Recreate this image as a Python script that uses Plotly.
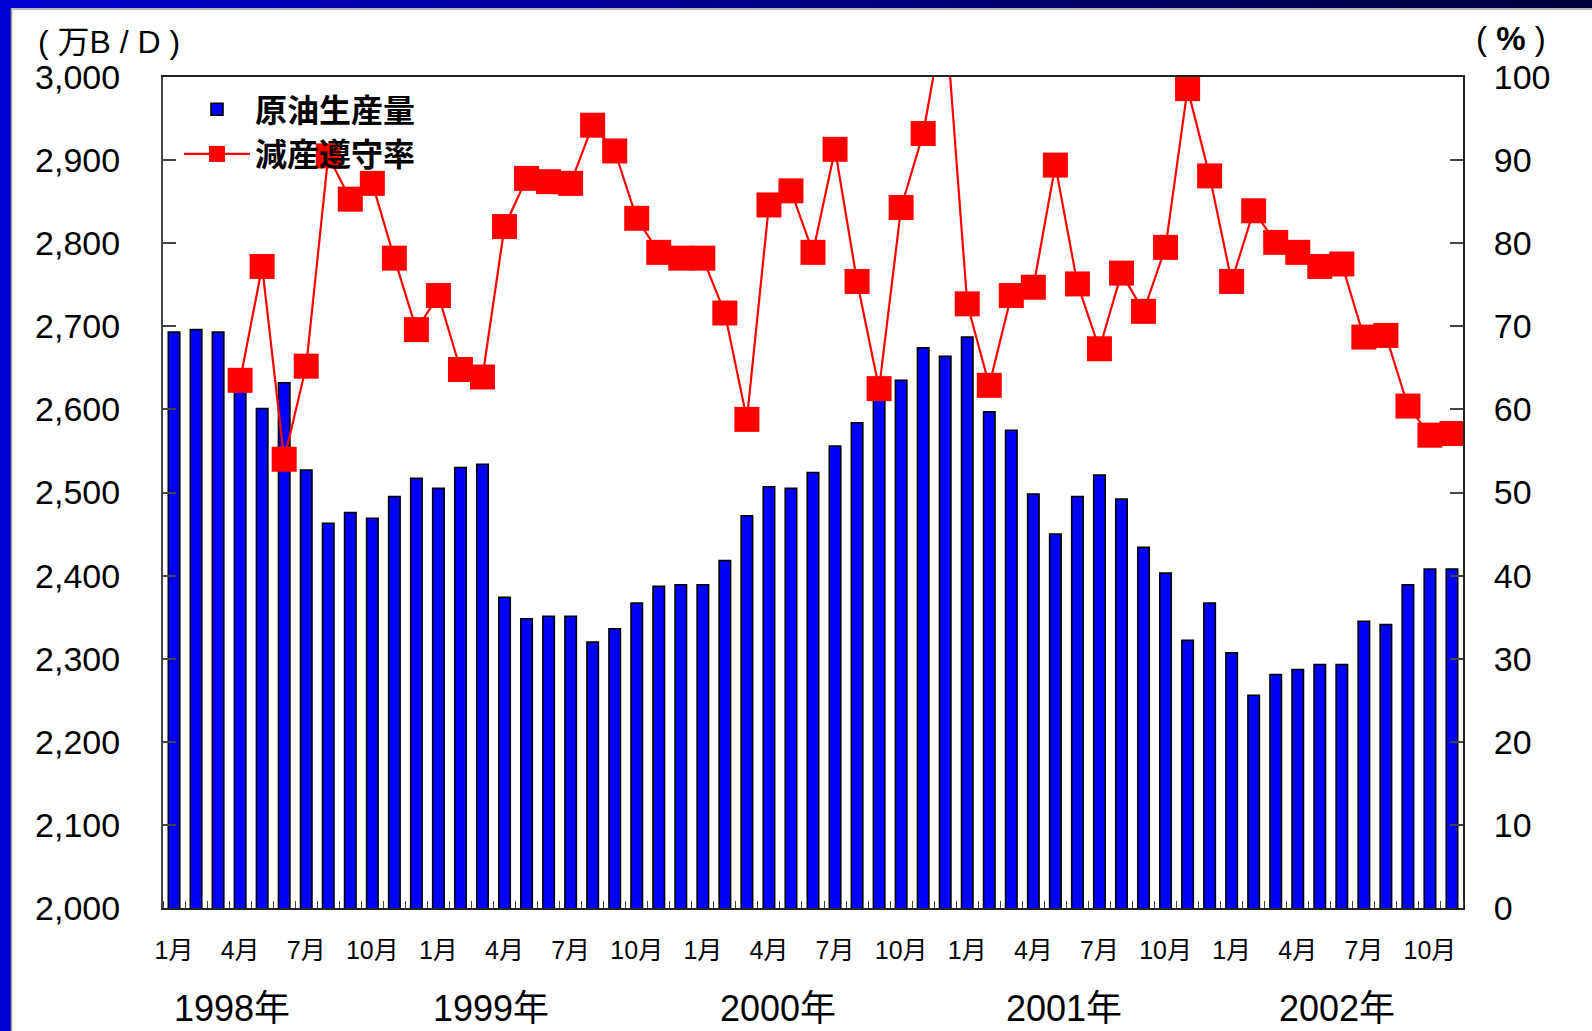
import plotly.graph_objects as go

# ---- data -------------------------------------------------------------
years = [1998, 1999, 2000, 2001, 2002]
month_nums = list(range(1, 13))
# monthly periods from 1998/1 to 2002/11
periods = [f"{y}年{m}月" for y in years for m in month_nums][:59]

# crude oil production (10k barrels/day)
production = [
    2693, 2696, 2693, 2635, 2601, 2632, 2527, 2463, 2476, 2469, 2495, 2517,
    2505, 2530, 2534, 2374, 2348, 2351, 2351, 2320, 2336, 2367, 2387, 2389,
    2389, 2418, 2472, 2507, 2505, 2524, 2556, 2584, 2618, 2635, 2674, 2664,
    2687, 2597, 2575, 2498, 2450, 2495, 2521, 2492, 2434, 2403, 2322, 2367,
    2307, 2256, 2281, 2287, 2293, 2293, 2345, 2341, 2389, 2408, 2408,
]

# production-cut compliance rate (%)
compliance = [
    None, None, None, 63.5, 77.2, 54.0, 65.2, 90.5, 85.3, 87.2, 78.2, 69.6,
    73.7, 64.8, 63.9, 82.0, 87.8, 87.4, 87.2, 94.2, 91.1, 83.0, 78.9, 78.2,
    78.2, 71.6, 58.8, 84.6, 86.3, 78.9, 91.3, 75.4, 62.5, 84.3, 93.2, 108.0,
    72.7, 62.9, 73.7, 74.7, 89.4, 75.1, 67.3, 76.4, 71.8, 79.5, 98.6, 88.1,
    75.4, 83.9, 80.1, 78.9, 77.2, 77.5, 68.7, 68.9, 60.4, 56.9, 57.1,
]

month_ticks = ["1月", "4月", "7月", "10月"]
year_labels = ["1998年", "1999年", "2000年", "2001年", "2002年"]

# ---- geometry -----------------------------------------------------------
W, H = 1592, 1031
ML, MR, MT, MB = 163, 129, 77, 123
PW, PH = W - ML - MR, H - MT - MB


def px_x(px):
    return (px - ML) / PW


def px_y(py):
    return (H - MB - py) / PH


xs = list(range(len(periods)))
tick_idx = [i for i, p in enumerate(periods) if p.split("年")[1] in month_ticks]
tick_txt = [periods[i].split("年")[1] for i in tick_idx]

LAT = "Liberation Sans, Arial, Noto Sans CJK JP, sans-serif"
CJK = "Noto Sans CJK JP, sans-serif"

fig = go.Figure()

fig.add_trace(go.Bar(
    x=xs, y=production, name="原油生産量",
    customdata=periods,
    marker=dict(color="#0000FF", line=dict(color="#000000", width=1.6)),
    width=0.52,
    hovertemplate="%{customdata}: %{y:,}<extra></extra>",
))

fig.add_trace(go.Scatter(
    x=xs, y=compliance, name="減産遵守率", yaxis="y2",
    customdata=periods,
    mode="lines+markers",
    line=dict(color="#FF0000", width=2.2),
    marker=dict(symbol="square", size=25, color="#FF0000"),
    connectgaps=False,
    hovertemplate="%{customdata}: %{y}%<extra></extra>",
))

# blue slide frame: left strip and a top band fading to navy
shapes = [
    dict(type="rect", xref="paper", yref="paper",
         x0=px_x(0), x1=px_x(11), y0=px_y(H), y1=px_y(0),
         fillcolor="#0000D0", line=dict(width=0), layer="below"),
]
n_seg = 40
for k in range(n_seg):
    x0p = W * k / n_seg
    x1p = W * (k + 1) / n_seg + 1
    t = k / (n_seg - 1)
    b = int(208 + (60 - 208) * t)
    shapes.append(dict(type="rect", xref="paper", yref="paper",
                       x0=px_x(x0p), x1=px_x(x1p), y0=px_y(8), y1=px_y(0),
                       fillcolor=f"rgb(0,0,{b})", line=dict(width=0), layer="below"))
shapes.append(dict(type="line", xref="paper", yref="paper",
                   x0=px_x(11), x1=px_x(W), y0=px_y(9), y1=px_y(9),
                   line=dict(color="#A0A0A0", width=1.5)))
shapes.append(dict(type="line", xref="paper", yref="paper",
                   x0=px_x(11.5), x1=px_x(11.5), y0=px_y(H), y1=px_y(9),
                   line=dict(color="#A0A0A0", width=1.5)))

annotations = [
    dict(text="( 万B / D )", xref="paper", yref="paper",
         x=px_x(36), y=px_y(42), xanchor="left", yanchor="middle",
         showarrow=False, font=dict(family=LAT, size=32, color="#000000")),
    dict(text="( <b>%</b> )", xref="paper", yref="paper",
         x=px_x(1474), y=px_y(38), xanchor="left", yanchor="middle",
         showarrow=False, font=dict(family=LAT, size=33, color="#000000")),
]
year_pos = [2.65, 14.4, 27.4, 40.4, 52.8]
for lbl, xp in zip(year_labels, year_pos):
    annotations.append(dict(
        text=lbl, xref="x", yref="paper", x=xp, y=px_y(1008),
        xanchor="center", yanchor="middle", showarrow=False,
        font=dict(family=LAT, size=36, color="#000000")))

fig.update_layout(
    width=W, height=H,
    margin=dict(l=ML, r=MR, t=MT, b=MB, pad=0),
    paper_bgcolor="#FFFFFF", plot_bgcolor="#FFFFFF",
    showlegend=True,
    legend=dict(
        x=px_x(179), y=px_y(82), xanchor="left", yanchor="top",
        bgcolor="rgba(0,0,0,0)", borderwidth=0,
        itemwidth=66, tracegroupgap=0,
        font=dict(family=CJK, size=32, color="#000000", weight=700),
    ),
    xaxis=dict(
        range=[-0.5, len(periods) - 0.5],
        tickmode="array", tickvals=tick_idx, ticktext=tick_txt,
        ticks="", ticklabelstandoff=19,
        tickfont=dict(family=LAT, size=25, color="#000000"),
        showline=True, linecolor="#222222", linewidth=2, mirror=True,
        showgrid=False, zeroline=False,
        minor=dict(tickmode="linear", tick0=-0.5, dtick=1, ticks="inside",
                   ticklen=7, tickcolor="#444444", tickwidth=1.2),
    ),
    yaxis=dict(
        range=[2000, 3000], dtick=100, tickformat=",",
        ticks="inside", ticklen=13, tickwidth=1.5, tickcolor="#444444",
        ticklabelstandoff=34,
        tickfont=dict(family=LAT, size=34, color="#000000"),
        showline=True, linecolor="#444444", linewidth=2,
        showgrid=False, zeroline=False,
    ),
    yaxis2=dict(
        range=[0, 100], dtick=10, overlaying="y", side="right",
        ticks="inside", ticklen=13, tickwidth=1.5, tickcolor="#444444",
        ticklabelstandoff=22,
        tickfont=dict(family=LAT, size=34, color="#000000"),
        showline=True, linecolor="#222222", linewidth=2,
        showgrid=False, zeroline=False,
    ),
    shapes=shapes,
    annotations=annotations,
)

fig.write_html("out.html")
